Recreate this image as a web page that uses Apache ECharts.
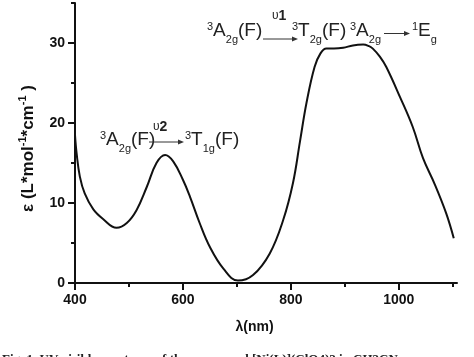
<!DOCTYPE html>
<html><head><meta charset="utf-8">
<script src="https://cdn.jsdelivr.net/npm/echarts@6/dist/echarts.min.js"></script>
<style>html,body{margin:0;padding:0;background:#fff}#c{width:474px;height:357px}</style>
</head><body><div id="c"></div>
<script>
// data
var wavelength = [400,403,409,418,434,452,477,496,514,533,551,567,582,600,613,631,650,675,702,730,761,786,804,817,829,844,855,866,880,897,915,934,945,952,965,977,1002,1026,1045,1067,1088,1102];
var epsilon    = [18.5,16.2,13.3,11.2,9.2,8.0,6.9,7.5,9.1,12.0,15.0,16.0,15.2,12.9,10.8,7.5,4.5,1.8,0.3,1.0,3.7,7.9,12.5,17.7,22.5,27.0,28.7,29.3,29.3,29.4,29.7,29.8,29.6,29.3,28.3,27.0,23.3,19.5,15.6,12.3,8.7,5.6];
var xMajorTicks = [400,600,800,1000];
var xMinorTicks = [500,700,900,1100];
var yMajorTicks = [0,10,20,30];
var yMinorTicks = [5,15,25,35];

var FONT = "'Liberation Sans', Arial, sans-serif";
var points = wavelength.map(function(w,i){return [w, epsilon[i]];});

var rich = {
  a:   {fontSize:19, fontFamily:FONT, lineHeight:28, verticalAlign:'top', fill:'#222'},
  sup: {fontSize:11, fontFamily:FONT, lineHeight:28, verticalAlign:'top', fill:'#222'},
  sub: {fontSize:11, fontFamily:FONT, lineHeight:28, verticalAlign:'top', padding:[13,0,0,0], fill:'#222'}
};
function label(x, y, txt){
  return {type:'text', x:x, y:y, z:100, style:{text:txt, rich:rich, font:'19px '+FONT, fill:'#222', verticalAlign:'top', align:'left'}};
}
function upsilon(x, y, n){
  return {type:'text', x:x, y:y, z:100, style:{text:'{u|υ}{n|'+n+'}', font:'13px '+FONT, fill:'#222', verticalAlign:'top',
    rich:{u:{fontSize:12, fontFamily:FONT, fill:'#222'}, n:{fontSize:14, fontWeight:'bold', fontFamily:FONT, fill:'#222'}}}};
}
function arrow(x1, x2, y){
  return [
    {type:'line', z:100, shape:{x1:x1, y1:y, x2:x2-4, y2:y}, style:{stroke:'#333', lineWidth:1}},
    {type:'polygon', z:100, shape:{points:[[x2,y],[x2-6,y-2.5],[x2-6,y+2.5]]}, style:{fill:'#333'}}
  ];
}

var graphics = [].concat(
  [label(100, 130, '{sup|3}{a|A}{sub|2g}{a|(F)}')],
  arrow(149, 184, 142),
  [upsilon(153, 120, '2')],
  [label(185, 130, '{sup|3}{a|T}{sub|1g}{a|(F)}')],
  [label(207, 21, '{sup|3}{a|A}{sub|2g}{a|(F)}')],
  arrow(263, 298, 39),
  [upsilon(272, 9, '1')],
  [label(292, 21, '{sup|3}{a|T}{sub|2g}{a|(F)}')],
  [label(350, 21, '{sup|3}{a|A}{sub|2g}')],
  arrow(384, 410, 33.5),
  [label(412, 21, '{sup|1}{a|E}{sub|g}')],
  [{type:'text', x:2, y:353, style:{text:'Fig. 1  UV-visible spectrum of the compound [Ni(L)](ClO4)2 in CH3CN', fontSize:13, fontWeight:'bold', fontFamily:'Liberation Serif', fill:'#222', verticalAlign:'top'}}]
);

function plain(v){ return String(v); }

var chart = echarts.init(document.getElementById('c'), null, {renderer:'canvas'});
chart.setOption({
  animation:false,
  backgroundColor:'#fff',
  grid:{left:75, right:17, top:3, bottom:74},
  xAxis:[{
    type:'value', min:400, max:1108, position:'bottom',
    name:'λ(nm)', nameLocation:'middle', nameGap:37,
    nameTextStyle:{fontFamily:FONT, fontWeight:'bold', fontSize:14, color:'#111', padding:[0,23,0,0]},
    axisLine:{show:true, onZero:false, lineStyle:{color:'#111', width:2}},
    axisTick:{show:true, length:7, customValues:xMajorTicks, lineStyle:{color:'#111', width:2}},
    axisLabel:{show:true, customValues:xMajorTicks, formatter:plain, margin:10, fontFamily:FONT, fontWeight:'bold', fontSize:14, color:'#111'},
    splitLine:{show:false}
  },{
    type:'value', min:400, max:1108, position:'bottom',
    axisLine:{show:false, onZero:false},
    axisTick:{show:true, length:4, customValues:xMinorTicks, lineStyle:{color:'#111', width:2}},
    axisLabel:{show:false},
    splitLine:{show:false}
  }],
  yAxis:[{
    type:'value', min:0, max:35, position:'left',
    name:'{a|ε (L*mol}{s|-1}{a|*cm}{s|-1}{a| )}', nameLocation:'middle', nameGap:38, nameRotate:90,
    nameTextStyle:{fontFamily:FONT, fontWeight:'bold', fontSize:17, color:'#111', padding:[0,11,0,0],
      rich:{a:{fontFamily:FONT, fontWeight:'bold', fontSize:17, color:'#111', lineHeight:20, verticalAlign:'bottom'},
            s:{fontFamily:FONT, fontWeight:'bold', fontSize:11, color:'#111', lineHeight:12, verticalAlign:'top'}}},
    axisLine:{show:true, onZero:false, lineStyle:{color:'#111', width:2}},
    axisTick:{show:true, length:7, customValues:yMajorTicks, lineStyle:{color:'#111', width:2}},
    axisLabel:{show:true, customValues:yMajorTicks, formatter:plain, margin:10, fontFamily:FONT, fontWeight:'bold', fontSize:14, color:'#111'},
    splitLine:{show:false}
  },{
    type:'value', min:0, max:35, position:'left',
    axisLine:{show:false, onZero:false},
    axisTick:{show:true, length:4, customValues:yMinorTicks, lineStyle:{color:'#111', width:2}},
    axisLabel:{show:false},
    splitLine:{show:false}
  }],
  series:[{
    type:'line', xAxisIndex:0, yAxisIndex:0, data:points, smooth:0.4, symbol:'none',
    lineStyle:{color:'#111', width:2}
  }],
  graphic:graphics
});
</script></body></html>
